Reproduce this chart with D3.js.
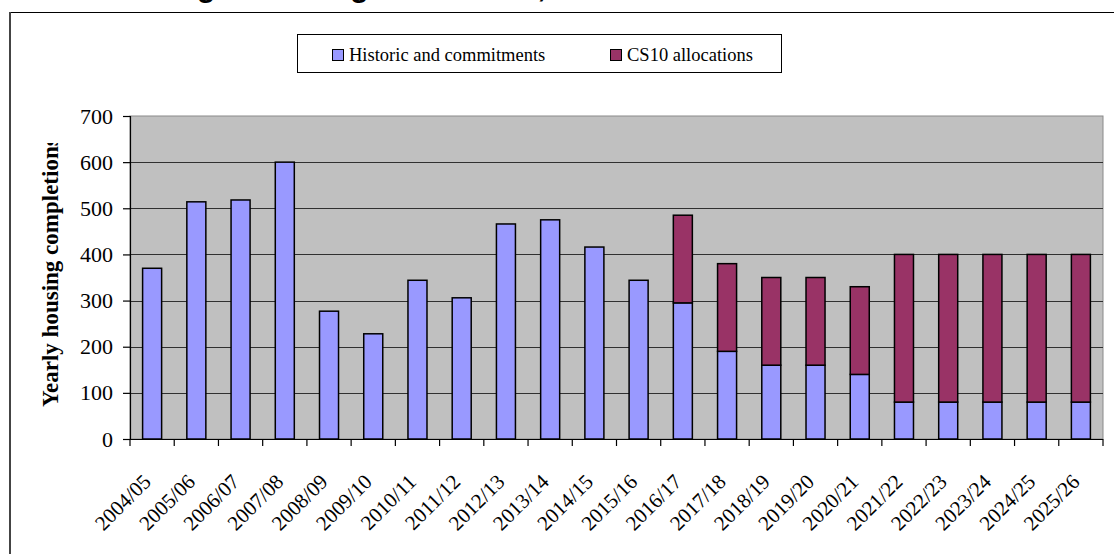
<!DOCTYPE html>
<html>
<head>
<meta charset="utf-8">
<script src="https://cdn.jsdelivr.net/npm/d3@7"></script>
<style>
  body { margin: 0; background: #fff; }
  svg { display: block; }
</style>
</head>
<body>
<svg id="chart" width="1114" height="554"></svg>
<script>
// chart data
var years = ["2004/05", "2005/06", "2006/07", "2007/08", "2008/09", "2009/10", "2010/11",
  "2011/12", "2012/13", "2013/14", "2014/15", "2015/16", "2016/17", "2017/18", "2018/19",
  "2019/20", "2020/21", "2021/22", "2022/23", "2023/24", "2024/25", "2025/26"];
var historic = [370, 514, 518, 600, 277, 228, 344, 306, 466, 475, 416, 344, 295, 190, 160,
  160, 140, 80, 80, 80, 80, 80];
var allocations = [0, 0, 0, 0, 0, 0, 0, 0, 0, 0, 0, 0, 190, 190, 190, 190, 190, 320, 320,
  320, 320, 320];
var seriesNames = ["Historic and commitments", "CS10 allocations"];
var seriesColors = ["#9999ff", "#993366"];
var yTicks = [0, 100, 200, 300, 400, 500, 600, 700];

var svg = d3.select("#chart");
var plotLeft = 130, plotRight = 1103, plotTop = 116, plotBottom = 439;
var serif = "Liberation Serif, Times New Roman, serif";

// title sits above the frame, mostly cut off by the page edge
svg.append("text")
  .attr("x", 112)
  .attr("y", -3)
  .style("font-family", "Liberation Sans, Arial, sans-serif")
  .style("font-weight", "bold")
  .style("font-size", "30px")
  .text("Strategic Housing Allocations, 2004 - 2026");

// outer chart frame
svg.append("line").attr("x1", 10).attr("x2", 1114).attr("y1", 12.5).attr("y2", 12.5)
  .attr("stroke", "#000").attr("stroke-width", 1.2);
svg.append("line").attr("x1", 10).attr("x2", 10).attr("y1", 12).attr("y2", 554)
  .attr("stroke", "#444").attr("stroke-width", 2);

var x = d3.scaleBand()
  .domain(years)
  .range([plotLeft, plotRight])
  .paddingInner(0.57)
  .paddingOuter(0.285);

var y = d3.scaleLinear()
  .domain([0, 700])
  .range([plotBottom, plotTop]);

// plot area
svg.append("rect")
  .attr("x", plotLeft).attr("y", plotTop)
  .attr("width", plotRight - plotLeft).attr("height", plotBottom - plotTop)
  .attr("fill", "#c0c0c0")
  .attr("stroke", "#8a8a8a")
  .attr("stroke-width", 1);

svg.append("g")
  .selectAll("line")
  .data(yTicks.slice(1, -1))
  .enter().append("line")
    .attr("x1", plotLeft).attr("x2", plotRight)
    .attr("y1", function(d) { return Math.round(y(d)) + 0.5; })
    .attr("y2", function(d) { return Math.round(y(d)) + 0.5; })
    .attr("stroke", "#303030")
    .attr("stroke-width", 1);

// stacked bars
var stack = years.map(function(yr, i) {
  return [
    { y0: 0, y1: historic[i] },
    { y0: historic[i], y1: historic[i] + allocations[i] }
  ];
});

seriesNames.forEach(function(name, s) {
  svg.append("g")
    .selectAll("rect")
    .data(years.filter(function(d, i) { return stack[i][s].y1 > stack[i][s].y0; }))
    .enter().append("rect")
      .attr("x", function(d) { return x(d); })
      .attr("y", function(d) { return y(stack[years.indexOf(d)][s].y1); })
      .attr("width", x.bandwidth())
      .attr("height", function(d) {
        var v = stack[years.indexOf(d)][s];
        return y(v.y0) - y(v.y1);
      })
      .attr("fill", seriesColors[s])
      .attr("stroke", "#000")
      .attr("stroke-width", 1.5);
});

// y axis
var yAxis = svg.append("g")
  .attr("transform", "translate(" + plotLeft + ",0)")
  .call(d3.axisLeft(y).tickValues(yTicks).tickSize(7).tickPadding(10));
yAxis.select(".domain").attr("stroke", "#000").attr("stroke-width", 1.2);
yAxis.selectAll(".tick line").attr("stroke", "#000").attr("stroke-width", 1.2);
yAxis.selectAll("text")
  .style("font-family", serif)
  .style("font-size", "22px")
  .attr("fill", "#000");

// x axis: ticks on the category boundaries
var step = x.step();
var bounds = years.map(function(d, i) { return plotLeft + i * step; }).concat([plotRight]);
svg.append("line")
  .attr("x1", plotLeft).attr("x2", plotRight)
  .attr("y1", plotBottom + 0.5).attr("y2", plotBottom + 0.5)
  .attr("stroke", "#000").attr("stroke-width", 1.2);
svg.append("g")
  .selectAll("line")
  .data(bounds)
  .enter().append("line")
    .attr("x1", function(d) { return d; })
    .attr("x2", function(d) { return d; })
    .attr("y1", plotBottom).attr("y2", plotBottom + 7)
    .attr("stroke", "#000").attr("stroke-width", 1.2);

svg.append("g")
  .selectAll("text")
  .data(years)
  .enter().append("text")
    .attr("transform", function(d) {
      return "translate(" + (x(d) + x.bandwidth() / 2) + "," + (plotBottom + 44) + ") rotate(-45)";
    })
    .attr("text-anchor", "end")
    .style("font-family", serif)
    .style("font-size", "21px")
    .text(function(d) { return d; });

// y axis title, clipped at the top like the original
svg.append("clipPath").attr("id", "ytclip")
  .append("rect").attr("x", 0).attr("y", 143).attr("width", 100).attr("height", 400);
svg.append("g")
  .attr("clip-path", "url(#ytclip)")
  .append("text")
    .attr("transform", "translate(58,407) rotate(-90)")
    .attr("text-anchor", "start")
    .style("font-family", serif)
    .style("font-weight", "bold")
    .style("font-size", "23px")
    .text("Yearly housing completions");

// legend
var legend = svg.append("g");
legend.append("rect")
  .attr("x", 297.5).attr("y", 34.5)
  .attr("width", 484).attr("height", 38)
  .attr("fill", "#fff")
  .attr("stroke", "#000").attr("stroke-width", 1);
var legX = [332, 610];
seriesNames.forEach(function(name, s) {
  legend.append("rect")
    .attr("x", legX[s] + 0.5).attr("y", 49.5)
    .attr("width", 11).attr("height", 11)
    .attr("fill", seriesColors[s])
    .attr("stroke", "#000").attr("stroke-width", 1);
  legend.append("text")
    .attr("x", legX[s] + 17).attr("y", 61)
    .style("font-family", serif)
    .style("font-size", "18.5px")
    .text(name);
});
</script>
</body>
</html>
